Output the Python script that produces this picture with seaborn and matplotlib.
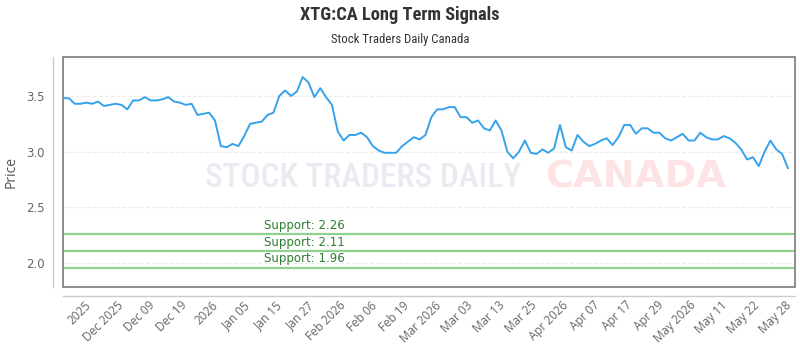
import numpy as np
import pandas as pd
import matplotlib
matplotlib.use('Agg')
from matplotlib import pyplot as plt
from matplotlib.patches import Rectangle, Ellipse
import seaborn as sns

# price series (one value per trading day)
prices = [
    3.48, 3.48, 3.43, 3.43, 3.44, 3.43, 3.45, 3.41, 3.42, 3.43, 3.42, 3.38, 3.46, 3.46, 3.49, 3.46,
    3.46, 3.47, 3.49, 3.45, 3.44, 3.42, 3.43, 3.33, 3.34, 3.35, 3.28, 3.05, 3.04, 3.07, 3.05, 3.14,
    3.25, 3.26, 3.27, 3.33, 3.35, 3.50, 3.55, 3.50, 3.54, 3.67, 3.62, 3.49, 3.57, 3.49, 3.42, 3.18,
    3.10, 3.15, 3.15, 3.17, 3.13, 3.05, 3.01, 2.99, 2.99, 2.99, 3.05, 3.09, 3.13, 3.11, 3.15, 3.31,
    3.38, 3.38, 3.40, 3.40, 3.31, 3.31, 3.26, 3.28, 3.21, 3.19, 3.28, 3.19, 3.00, 2.94, 3.00, 3.10,
    2.99, 2.98, 3.02, 2.99, 3.03, 3.24, 3.04, 3.01, 3.15, 3.09, 3.05, 3.07, 3.10, 3.12, 3.06, 3.13,
    3.24, 3.24, 3.16, 3.21, 3.21, 3.17, 3.17, 3.12, 3.10, 3.13, 3.16, 3.10, 3.10, 3.17, 3.13, 3.11,
    3.11, 3.14, 3.12, 3.08, 3.02, 2.93, 2.95, 2.87, 3.00, 3.10, 3.02, 2.98, 2.85,
]

tick_labels = ['2025', 'Dec 2025', 'Dec 09', 'Dec 19', '2026', 'Jan 05', 'Jan 15', 'Jan 27',
               'Feb 2026', 'Feb 06', 'Feb 19', 'Mar 2026', 'Mar 03', 'Mar 13', 'Mar 25',
               'Apr 2026', 'Apr 07', 'Apr 17', 'Apr 29', 'May 2026', 'May 11', 'May 22', 'May 28']

supports = [2.26, 2.11, 1.96]

df = pd.DataFrame({'day': np.arange(len(prices)), 'price': prices})

sns.set_style('white')
plt.rcParams['font.family'] = ['Open Sans', 'DejaVu Sans']
narrow = ['Liberation Sans Narrow', 'DejaVu Sans Condensed', 'Roboto Condensed', 'Roboto', 'DejaVu Sans']

fig = plt.figure(figsize=(8, 3.5), dpi=100)
ax = fig.add_axes([63 / 800, 1 - 287 / 350, 732 / 800, 230 / 350])

# frame box plus offset axis lines (spines first: moving them resets the ticks)
for side in ['top', 'right']:
    ax.spines[side].set_visible(False)
ax.spines['left'].set_position(('outward', 7.2))
ax.spines['bottom'].set_position(('outward', 6.5))
for side in ['left', 'bottom']:
    ax.spines[side].set_color('#cccccc')
    ax.spines[side].set_linewidth(1)
ax.add_patch(Rectangle((0, 0), 1, 1, transform=ax.transAxes, fill=False,
                       ec='#7a7a7a', lw=1.2, clip_on=False, zorder=5))

# faint watermark
fig.add_artist(Ellipse((150 / 800, 1 - 177 / 350), 86 / 800, 86 / 350,
                       facecolor='#f3f5fa', edgecolor='#e3e8f2', lw=4, zorder=0))
ax.text(0.194, 0.475, 'STOCK TRADERS DAILY', transform=ax.transAxes, fontsize=24,
        color='#e8ebf2', fontweight='medium', va='center', ha='left', zorder=0, family=narrow)
ax.text(0.658, 0.475, 'CANADA', transform=ax.transAxes, fontsize=27.5,
        color='#fde3e3', fontweight='bold', va='center', ha='left', zorder=0,
        family=['DejaVu Sans'])

sns.lineplot(data=df, x='day', y='price', ax=ax, color='#36a2eb', lw=1.4, zorder=3)

for s in supports:
    ax.axhline(s, color='#8fd18f', lw=1.6, zorder=2)
    ax.annotate(f'Support: {s:.2f}', xy=(0.33, s), xycoords=('axes fraction', 'data'),
                xytext=(0, 1.5), textcoords='offset points', ha='center', va='bottom',
                fontsize=8.5, color='#2e7d32', family=['DejaVu Sans'])

ax.set_xlim(0, 125.2)
ax.set_ylim(1.785, 3.85)
ax.set_yticks([2.0, 2.5, 3.0, 3.5])
ax.set_xticks(np.linspace(3.7, 123.4, len(tick_labels)))
ax.tick_params(axis='both', length=0, colors='#666666', labelsize=8.5)
ax.tick_params(axis='y', pad=6)
ax.tick_params(axis='x', pad=2)
ax.set_yticklabels(['2.0', '2.5', '3.0', '3.5'], family=['DejaVu Sans'])
ax.set_xticklabels(tick_labels, rotation=45, ha='right', rotation_mode='anchor')

ax.yaxis.grid(True, ls='--', color='#ececec', lw=0.8)
ax.xaxis.grid(False)

ax.set_xlabel('')
ax.set_ylabel('Price', fontsize=10, color='#555555', labelpad=5)

fig.text(0.5, 1 - 15 / 350, 'XTG:CA Long Term Signals', ha='center', va='center',
         fontsize=13.2, fontweight='bold', color='#333333', family=narrow)
fig.text(0.5, 1 - 40 / 350, 'Stock Traders Daily Canada', ha='center', va='center',
         fontsize=9.2, color='#333333', family=narrow)

fig.savefig('out.png', dpi=100)
